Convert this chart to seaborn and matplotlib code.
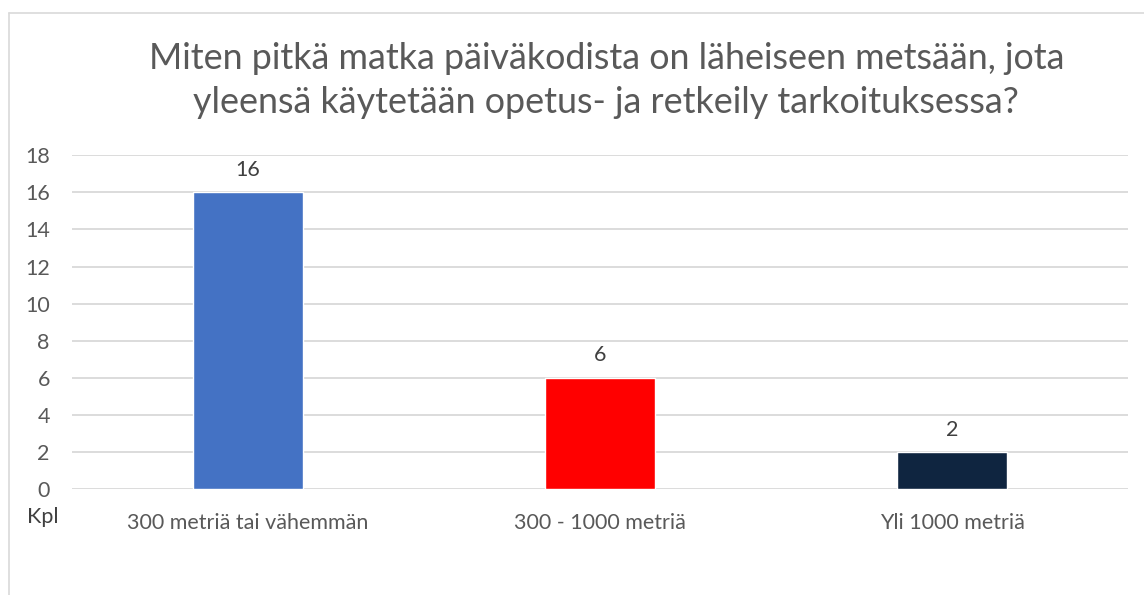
import matplotlib
matplotlib.use("Agg")
import matplotlib.pyplot as plt
import seaborn as sns
import pandas as pd
from matplotlib.lines import Line2D

categories = ["300 metriä tai vähemmän", "300 - 1000 metriä", "Yli 1000 metriä"]
counts = [16, 6, 2]
bar_colors = ["#4472C4", "#FF0000", "#0F2540"]
y_ticks = list(range(0, 19, 2))
title = "Miten pitkä matka päiväkodista on läheiseen metsään, jota\nyleensä käytetään opetus- ja retkeily tarkoituksessa?"

df = pd.DataFrame({"kategoria": categories, "kpl": counts})

sns.set_theme(style="white")
plt.rcParams["font.family"] = ["Lato", "DejaVu Sans"]
text_color = "#595959"

fig = plt.figure(figsize=(11.44, 5.95), dpi=100)
ax = fig.add_axes([0.063, 0.178, 0.923, 0.561])

sns.barplot(data=df, x="kategoria", y="kpl", hue="kategoria", palette=bar_colors,
            width=0.315, legend=False, ax=ax, saturation=1)

ax.set_ylim(0, 18)
ax.set_yticks(y_ticks)
ax.set_xlim(-0.5, 2.5)
ax.yaxis.grid(True, color="#D9D9D9", linewidth=1.3)
ax.set_axisbelow(True)
for s in ax.spines.values():
    s.set_visible(False)
ax.tick_params(axis="both", length=0, labelsize=15.5, labelcolor=text_color)
ax.tick_params(axis="x", pad=17)
ax.tick_params(axis="y", pad=16)
ax.set_xlabel("")
ax.set_ylabel("")

for i, v in enumerate(counts):
    ax.annotate(str(v), (i, v), xytext=(0, 9), textcoords="offset points",
                ha="center", va="bottom", fontsize=15.5, color="#404040")

ax.text(-0.028, -0.085, "Kpl", transform=ax.transAxes, ha="center", va="center",
        fontsize=15.5, color="#404040")

fig.text(0.530, 0.865, title, ha="center", va="center", fontsize=25.8,
         color=text_color, linespacing=1.4)

# chart frame (left and top edges visible)
fig.add_artist(Line2D([9 / 1144, 9 / 1144], [0, 1 - 13 / 595], transform=fig.transFigure,
                      color="#D9D9D9", linewidth=1.2))
fig.add_artist(Line2D([9 / 1144, 1], [1 - 13 / 595, 1 - 13 / 595], transform=fig.transFigure,
                      color="#D9D9D9", linewidth=1.2))

fig.savefig("out.png", dpi=100, facecolor="white")
